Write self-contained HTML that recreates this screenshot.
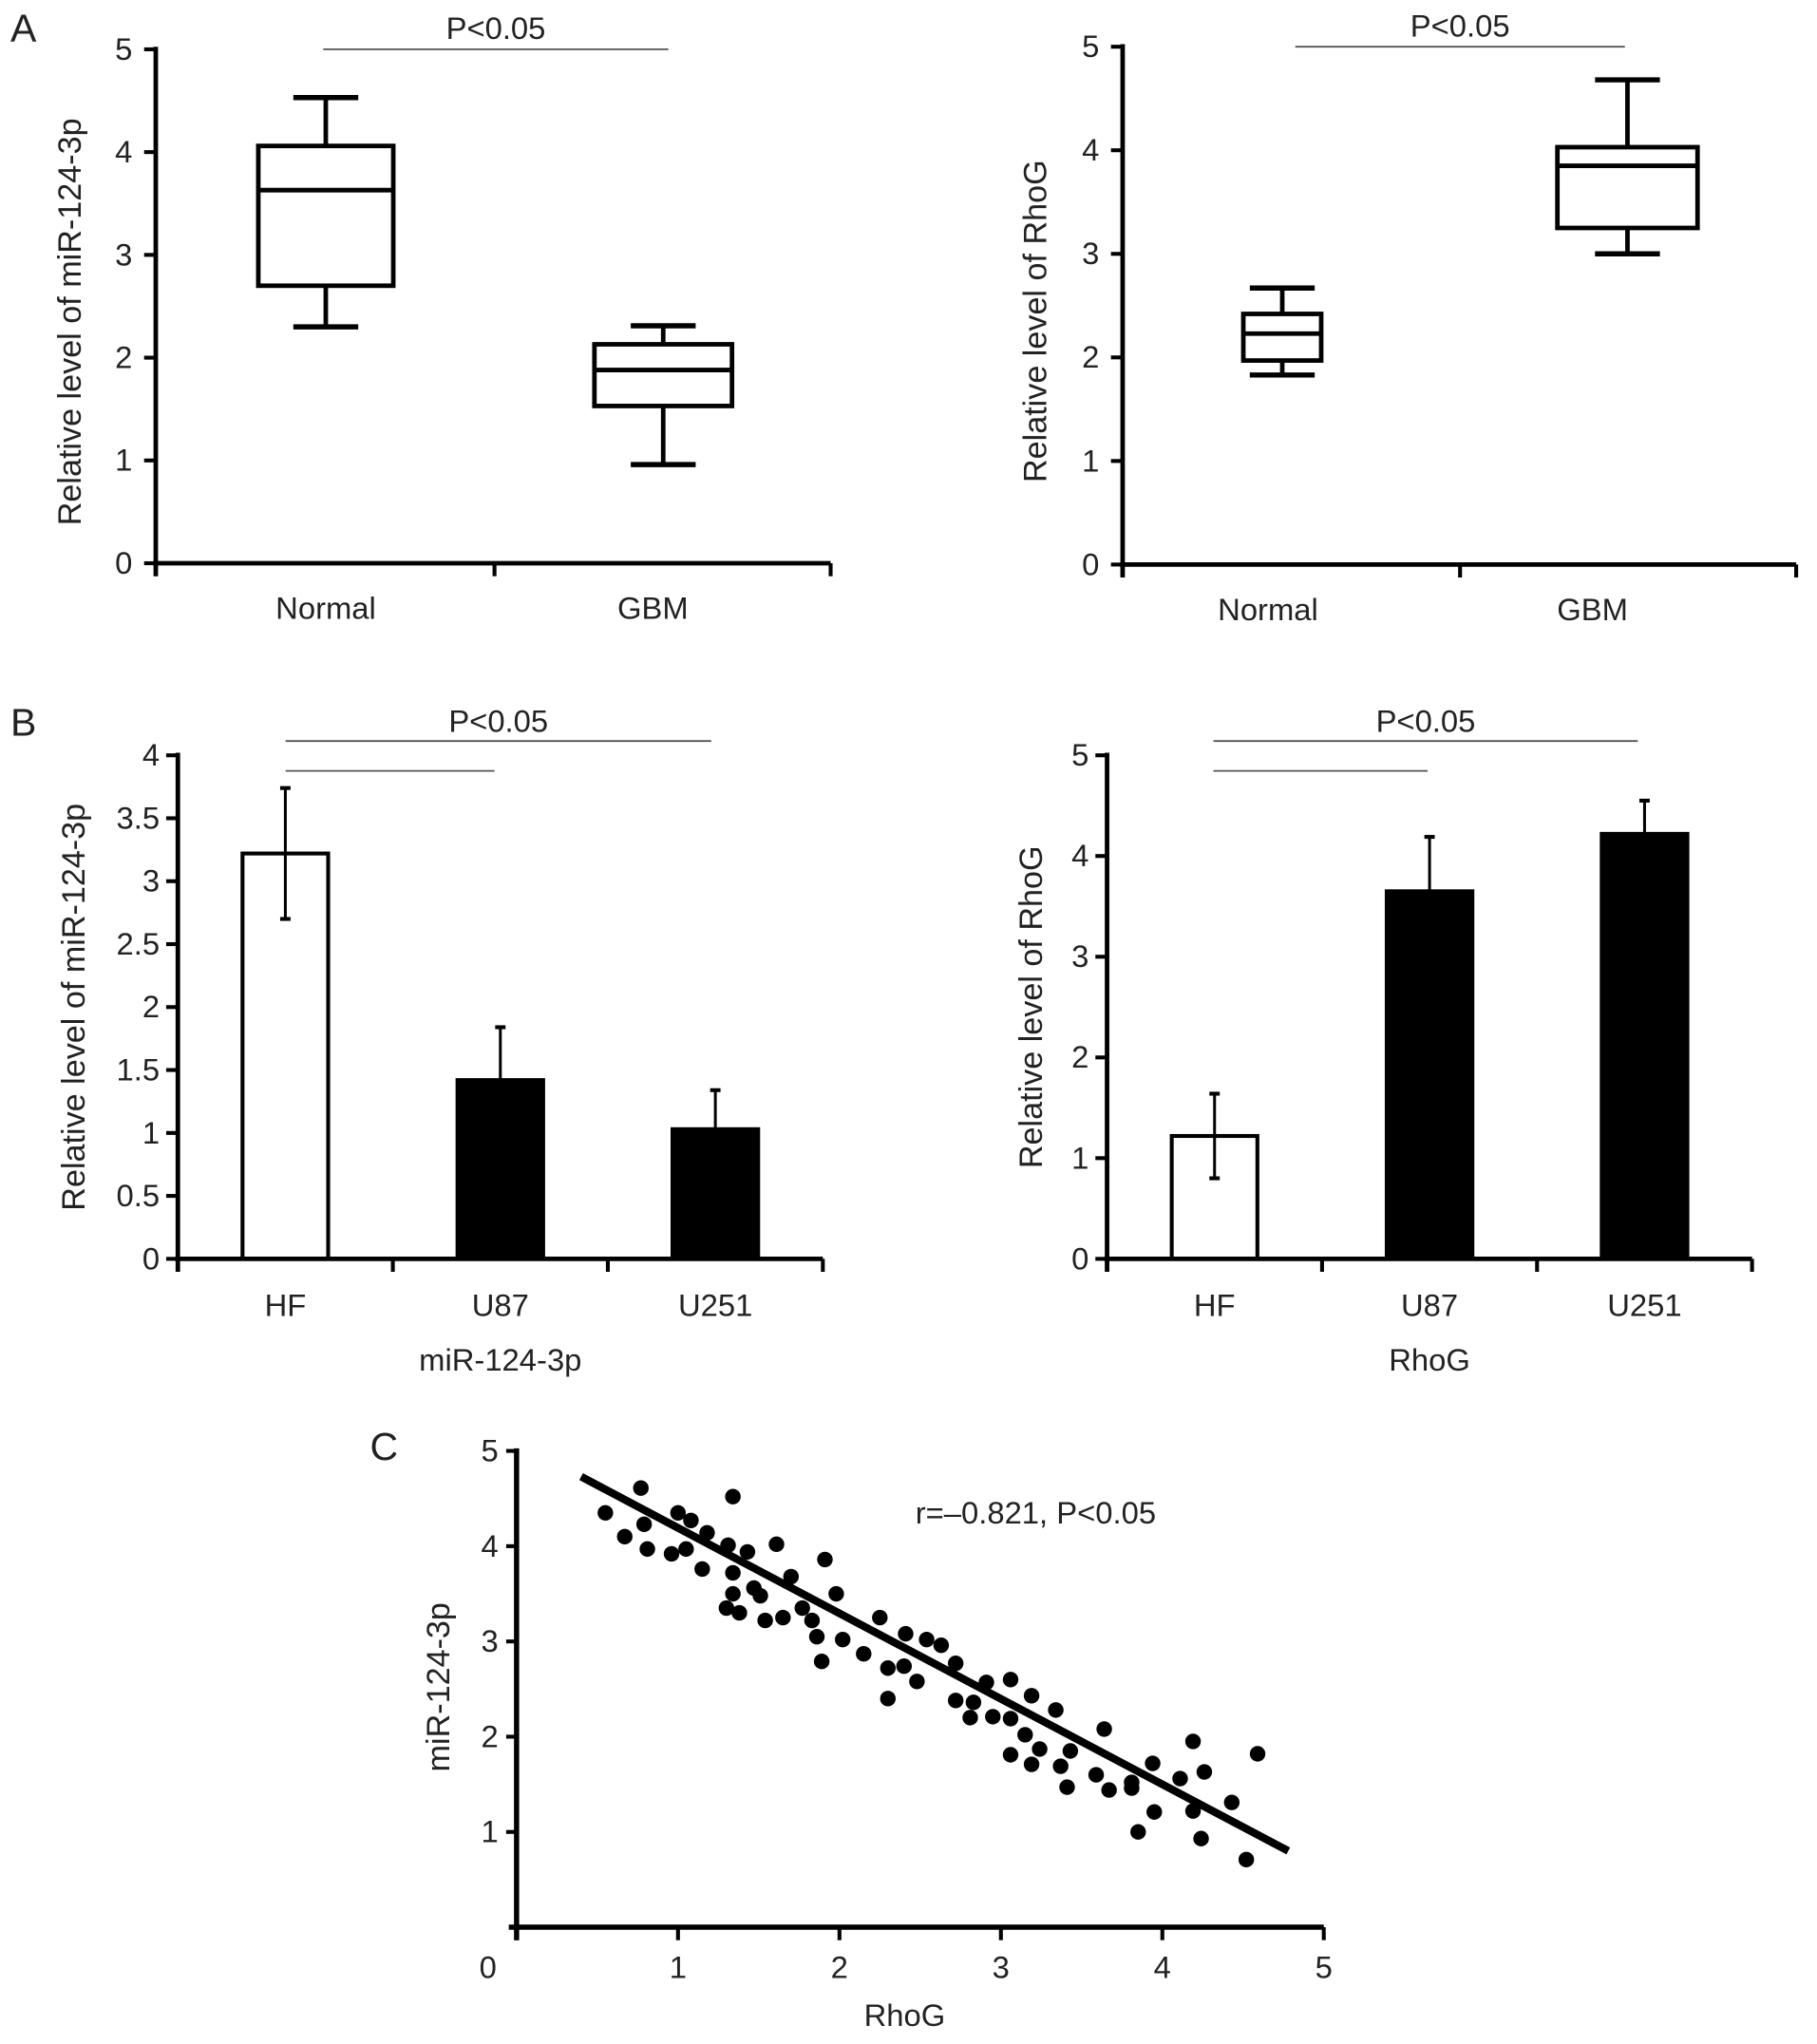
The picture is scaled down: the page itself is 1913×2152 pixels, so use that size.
<!DOCTYPE html>
<html><head><meta charset="utf-8"><style>
html,body{margin:0;padding:0;background:#fff;}
svg{display:block;font-family:"Liberation Sans",Arial,sans-serif;}
</style></head><body>
<svg id="fig" width="1913" height="2152" viewBox="0 0 1400 1575" xmlns="http://www.w3.org/2000/svg"></svg>
<script>
// Panel A data
const boxCats = ["Normal","GBM"];
const mirBox = [[2.3,2.7,3.63,4.06,4.53],[0.96,1.53,1.88,2.13,2.31]];
const rhogBox = [[1.83,1.97,2.23,2.42,2.67],[3.0,3.25,3.85,4.03,4.68]];
const boxTicks = [0,1,2,3,4,5];
// Panel B data
const barCats = ["HF","U87","U251"];
const mirBar = [3.22,1.42,1.03];
const mirErr = [0.52,0.42,0.31];
const mirTicks = ["0","0.5","1","1.5","2","2.5","3","3.5","4"];
const rhogBar = [1.22,3.65,4.22];
const rhogErr = [0.42,0.54,0.33];
const rhogTicks = ["0","1","2","3","4","5"];
// Panel C data
const scX = [0.55,0.67,0.77,0.79,0.81,0.96,1.0,1.05,1.08,1.15,1.18,1.31,1.34,1.3,1.34,1.34,1.38,1.43,1.47,1.51,1.54,1.61,1.65,1.7,1.77,1.83,1.86,1.89,1.91,1.98,2.02,2.15,2.25,2.3,2.3,2.4,2.41,2.48,2.54,2.63,2.72,2.72,2.83,2.81,2.91,2.95,3.06,3.06,3.06,3.15,3.19,3.19,3.24,3.34,3.37,3.41,3.43,3.59,3.64,3.67,3.81,3.81,3.85,3.94,3.95,4.11,4.19,4.19,4.24,4.26,4.43,4.52,4.59];
const scY = [4.35,4.1,4.61,4.23,3.97,3.92,4.35,3.97,4.27,3.76,4.14,4.01,4.52,3.35,3.72,3.5,3.3,3.94,3.56,3.48,3.22,4.02,3.25,3.68,3.35,3.22,3.05,2.79,3.86,3.5,3.02,2.87,3.25,2.72,2.4,2.74,3.08,2.58,3.02,2.96,2.77,2.38,2.36,2.2,2.57,2.21,2.6,2.19,1.81,2.02,2.43,1.71,1.87,2.28,1.69,1.47,1.85,1.6,2.08,1.44,1.52,1.46,1.0,1.72,1.21,1.56,1.95,1.22,0.93,1.63,1.31,0.71,1.82];
const fitLine = [[0.4,4.73],[4.78,0.8]];
const scTicks = [0,1,2,3,4,5];

const FS = 24;
const svg = document.getElementById('fig');
const NS = "http://www.w3.org/2000/svg";
function mk(tag, attrs, parent){
  const e = document.createElementNS(NS, tag);
  for (const k in attrs) e.setAttribute(k, attrs[k]);
  (parent||svg).appendChild(e);
  return e;
}
function txt(x,y,s,size,anchor,parent,rot){
  const t = mk('text',{x:x,y:y,'font-size':size,'text-anchor':anchor||'middle',fill:'#222'},parent);
  if(rot) t.setAttribute('transform','rotate(-90 '+x+' '+y+')');
  t.textContent = s;
  return t;
}
function line(x1,y1,x2,y2,w,col,parent){
  return mk('line',{x1:x1,y1:y1,x2:x2,y2:y2,stroke:col||'#000','stroke-width':w},parent);
}

let l;
l = txt(8,32,"A",30,'start');  
l = txt(8,567,"B",30,'start');  
l = txt(285,1125,"C",30,'start');  

function boxPanel(name, ax0, ax1, y0, ymax, centers, data, ylabel, ylabX, pline, xdiv){
  const g = mk('g',{});
  
  
  const ys = v => y0 - (y0-ymax)*v/5;
  line(ax0,ymax-2,ax0,y0+10,3.5,'#000',g);
  line(ax0-2,y0,ax1,y0,3.5,'#000',g);
  [ax0,xdiv,ax1].forEach(x=>line(x,y0,x,y0+10,3,'#000',g));
  boxTicks.forEach(t=>{
    line(ax0-9,ys(t),ax0,ys(t),3,'#000',g);
    const tl = txt(ax0-18,ys(t)+8,String(t),FS,'end',g);
    
    
  });
  data.forEach((d,i)=>{
    const c = centers[i].c, hw = centers[i].hw, cw = 25;
    const b = mk('g',{},g);
    
    
    line(c,ys(d[0]),c,ys(d[1]),3.5,'#000',b);
    line(c,ys(d[3]),c,ys(d[4]),3.5,'#000',b);
    line(c-cw,ys(d[0]),c+cw,ys(d[0]),4,'#000',b);
    line(c-cw,ys(d[4]),c+cw,ys(d[4]),4,'#000',b);
    mk('rect',{x:c-hw,y:ys(d[3]),width:2*hw,height:ys(d[1])-ys(d[3]),fill:'#fff',stroke:'#000','stroke-width':3.5},b);
    line(c-hw,ys(d[2]),c+hw,ys(d[2]),3.5,'#000',b);
    const xl = txt(centers[i].lx,y0+43,boxCats[i],FS,'middle',g);
    
    
  });
  const yl = txt(ylabX,(y0+ymax)/2+12,ylabel,FS+1,'middle',g,true);
  
  
  line(pline[0],ymax,pline[1],ymax,1.3,'#555',g);
  const pt = txt((pline[0]+pline[1])/2,ymax-8,"P<0.05",FS,'middle',g);
  
  
}
boxPanel('box-plot-mir', 120,640,434,38,[{c:251,hw:52,lx:251},{c:511,hw:53,lx:503}],mirBox,"Relative level of miR-124-3p",62,[249,515],381);
boxPanel('box-plot-rhog', 865,1384,435,36,[{c:988,hw:30,lx:977},{c:1254,hw:54,lx:1227}],rhogBox,"Relative level of RhoG",806,[998,1252],1125);

function barPanel(name, ax0, ax1, y0, ymax, tmax, tickLabels, vals, errs, ylabel, ylabX, xtitle, p1, p2){
  const g = mk('g',{});
  
  
  const ys = v => y0 - (y0-ymax)*v/tmax;
  const step = (ax1-ax0)/3;
  line(ax0,ymax-2,ax0,y0+10,3.5,'#000',g);
  line(ax0-2,y0,ax1,y0,3.5,'#000',g);
  for(let i=0;i<=3;i++) line(ax0+i*step,y0,ax0+i*step,y0+10,3,'#000',g);
  tickLabels.forEach(t=>{
    const v = parseFloat(t);
    line(ax0-9,ys(v),ax0,ys(v),3,'#000',g);
    const tl = txt(ax0-14,ys(v)+8,t,FS,'end',g);
    
    
  });
  vals.forEach((v,i)=>{
    const c = ax0 + step*(i+0.5);
    const eb = mk('g',{},g);
    
    
    const lo = (i===0) ? v-errs[i] : v;
    line(c,ys(v+errs[i]),c,ys(lo),2.2,'#000',eb);
    line(c-4,ys(v+errs[i]),c+4,ys(v+errs[i]),3,'#000',eb);
    if(lo!==v) line(c-4,ys(lo),c+4,ys(lo),3,'#000',eb);
    const r = mk('rect',{x:c-33,y:ys(v),width:66,height:y0-ys(v),fill:i===0?'none':'#000',stroke:'#000','stroke-width':3},g);
    
    
    const xl = txt(c,y0+44,barCats[i],FS,'middle',g);
    
    
  });
  const xt = txt(ax0+step*1.5,y0+86,xtitle,FS,'middle',g);
  
  
  const yl = txt(ylabX,(y0+ymax)/2,ylabel,FS+1,'middle',g,true);
  
  
  line(p1[0],571,p1[1],571,1.3,'#555',g);
  line(p2[0],594,p2[1],594,1.3,'#555',g);
  const pt = txt((p1[0]+p1[1])/2,564,"P<0.05",FS,'middle',g);
  
  
}
barPanel('bar-chart-mir',137,634,970,582,4,mirTicks,mirBar,mirErr,"Relative level of miR-124-3p",65,"miR-124-3p",[220,548],[220,381]);
barPanel('bar-chart-rhog',853,1350,970,582,5,rhogTicks,rhogBar,rhogErr,"Relative level of RhoG",803,"RhoG",[935,1262],[935,1100]);

(function(){
  const g = mk('g',{});
  
  
  const x0=398, y0=1485, xu=124.4, yu=73.4;
  const xs = v => x0 + xu*v, ys = v => y0 - yu*v;
  line(x0,ys(5)-2,x0,y0+10,4,'#000',g);
  line(x0-6,y0,xs(5),y0,4,'#000',g);
  scTicks.forEach(t=>{
    if(t>0){ line(x0-8,ys(t),x0,ys(t),3,'#000',g);
      const tl = txt(x0-14,ys(t)+8,String(t),FS,'end',g);
      
      
    }
    line(xs(t),y0,xs(t),y0+10,3,'#000',g);
    const xl = txt(t===0?x0-22:xs(t),y0+39,String(t),FS,'middle',g);
    
    
  });
  scX.forEach((x,i)=>{
    const c = mk('circle',{cx:xs(x),cy:ys(scY[i]),r:6,fill:'#000'},g);
    
    
  });
  const fl = line(xs(fitLine[0][0]),ys(fitLine[0][1]),xs(fitLine[1][0]),ys(fitLine[1][1]),6,'#000',g);
  
  
  const a = txt(798,1174,"r=\u20130.821, P<0.05",FS,'middle',g);
  
  
  const yl = txt(346,1300,"miR-124-3p",FS+1,'middle',g,true);
  
  
  const xt = txt(697,1561,"RhoG",FS,'middle',g);
  
  
})();
</script>
</body></html>
